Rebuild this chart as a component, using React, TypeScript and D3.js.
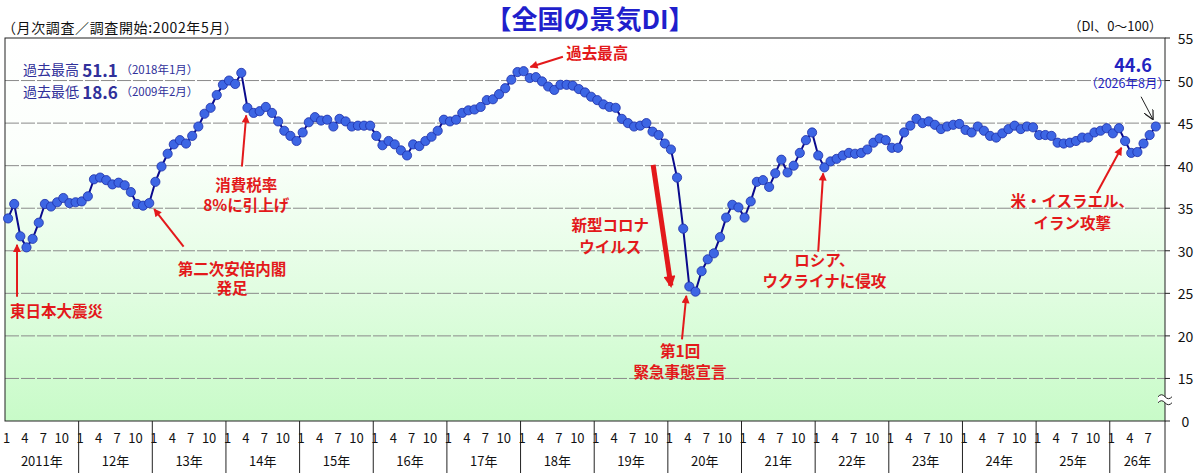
import React, { useEffect, useRef } from 'react';
import * as d3 from 'd3';

// 景気DI (monthly), Jan 2011 - Aug 2026
const di2011 = [33.8, 35.5, 31.7, 30.4, 31.4, 33.3, 35.5, 35.2, 35.7, 36.2, 35.6, 35.7];
const di2012 = [35.8, 36.4, 38.4, 38.6, 38.3, 37.8, 38.0, 37.7, 36.9, 35.5, 35.3, 35.6];
const di2013 = [38.1, 39.9, 41.4, 42.5, 43.0, 42.6, 43.5, 44.6, 46.1, 46.8, 48.3, 49.5];
const di2014 = [50.0, 49.6, 50.9, 46.8, 46.2, 46.4, 46.9, 46.2, 45.2, 44.1, 43.5, 42.9];
const di2015 = [43.9, 45.1, 45.7, 45.3, 45.4, 44.6, 45.5, 45.2, 44.6, 44.7, 44.7, 44.7];
const di2016 = [43.5, 42.4, 42.9, 42.5, 41.8, 41.2, 42.5, 42.3, 42.9, 43.4, 44.1, 45.4];
const di2017 = [45.2, 45.4, 46.2, 46.5, 46.6, 46.9, 47.7, 47.8, 48.4, 49.1, 50.1, 51.0];
const di2018 = [51.1, 50.3, 50.4, 49.9, 49.3, 48.9, 49.5, 49.5, 49.4, 49.0, 48.6, 48.1];
const di2019 = [47.7, 47.2, 46.9, 46.8, 45.5, 45.0, 44.6, 44.7, 45.0, 44.0, 43.6, 42.6];
const di2020 = [41.9, 38.6, 32.6, 25.8, 25.2, 27.6, 29.0, 29.7, 31.6, 33.9, 35.4, 35.1];
const di2021 = [33.9, 35.8, 38.1, 38.3, 37.5, 39.1, 40.7, 39.2, 40.0, 41.5, 43.0, 43.9];
const di2022 = [41.2, 39.8, 40.5, 40.8, 41.2, 41.5, 41.4, 41.5, 41.9, 42.7, 43.2, 43.0];
const di2023 = [42.1, 42.1, 43.9, 44.7, 45.5, 45.0, 45.2, 44.8, 44.3, 44.6, 44.8, 44.9];
const di2024 = [44.2, 43.9, 44.6, 44.1, 43.5, 43.3, 43.8, 44.3, 44.7, 44.3, 44.6, 44.5];
const di2025 = [43.6, 43.6, 43.5, 42.7, 42.6, 42.7, 42.9, 43.3, 43.3, 43.9, 44.1, 44.4];
const di2026 = [43.8, 44.4, 42.9, 41.5, 41.6, 42.6, 43.6, 44.6];
const diByYear = [di2011, di2012, di2013, di2014, di2015, di2016, di2017, di2018,
  di2019, di2020, di2021, di2022, di2023, di2024, di2025, di2026];

const yearLabels = ['2011年', '12年', '13年', '14年', '15年', '16年', '17年', '18年',
  '19年', '20年', '21年', '22年', '23年', '24年', '25年', '26年'];
const monthTickLabels = [1, 4, 7, 10];
const lastYearAxisMonths = 9; // axis runs to Sep 2026

const yTicks = [15, 20, 25, 30, 35, 40, 45, 50, 55];
const yBreakValue = 10; // drawn as "0" below the break
const yBreakLabel = '0';

// annotations, in (month index, DI value)
const redNotes = [
  { lines: ['東日本大震災'], m: 0.3, v: [23.0], anchor: 'start', from: [1.46, 24.6], to: [1.46, 30.7] },
  { lines: ['第二次安倍内閣', '発足'], m: 36.5, v: [28.0, 25.8], anchor: 'middle', from: [28.6, 30.5], to: [23.8, 34.9] },
  { lines: ['消費税率', '8%に引上げ'], m: 38.8, v: [37.8, 35.5], anchor: 'middle', from: [38.1, 39.9], to: [38.8, 45.9] },
  { lines: ['過去最高'], m: 96.0, v: [53.4], anchor: 'middle', from: [90.4, 52.8], to: [85.1, 51.6] },
  { lines: ['新型コロナ', 'ウイルス'], m: 98.1, v: [33.1, 30.6], anchor: 'middle', from: null, to: null },
  { lines: ['第1回', '緊急事態宣言'], m: 109.5, v: [18.3, 15.9], anchor: 'middle', from: [109.8, 19.6], to: [110.5, 24.7] },
  { lines: ['ロシア、', 'ウクライナに侵攻'], m: 133.0, v: [29.0, 26.6], anchor: 'middle', from: [132.0, 29.9], to: [132.8, 39.1] },
  { lines: ['米・イスラエル、', 'イラン攻撃'], m: 173.4, v: [36.0, 33.4], anchor: 'middle', from: [177.4, 36.8], to: [181.4, 42.1] },
];
const covidArrow = { from: [105.1, 40.1], to: [108.0, 25.9] };

const W = 1200;
const H = 476;
const plot = { left: 5, right: 1165, top: 38, bottom: 421 };
const JP = '"Noto Sans CJK JP", "Noto Sans", sans-serif';
const RED = '#e3191b';

const App: React.FC = () => {
  const svgRef = useRef<SVGSVGElement>(null);

  useEffect(() => {
    if (!svgRef.current) return;
    const svg = d3.select(svgRef.current);
    svg.selectAll('*').remove();

    const values = diByYear.flat();
    const nMonths = (diByYear.length - 1) * 12 + lastYearAxisMonths;

    const x = d3.scaleLinear().domain([-0.5, nMonths - 0.5]).range([plot.left, plot.right]);
    const y = d3.scaleLinear().domain([yBreakValue, 55]).range([plot.bottom, plot.top]);

    const defs = svg.append('defs');
    const grad = defs.append('linearGradient')
      .attr('id', 'bg').attr('x1', 0).attr('y1', 0).attr('x2', 0).attr('y2', 1);
    grad.append('stop').attr('offset', '0%').attr('stop-color', '#ffffff');
    grad.append('stop').attr('offset', '30%').attr('stop-color', '#fbfffb');
    grad.append('stop').attr('offset', '100%').attr('stop-color', '#c8fbc8');

    defs.append('marker')
      .attr('id', 'redHead').attr('viewBox', '0 0 10 10')
      .attr('refX', 9).attr('refY', 5)
      .attr('markerWidth', 9).attr('markerHeight', 8)
      .attr('markerUnits', 'userSpaceOnUse')
      .attr('orient', 'auto')
      .append('path').attr('d', 'M0,0 L10,5 L0,10 Z').attr('fill', RED);
    defs.append('marker')
      .attr('id', 'bigHead').attr('viewBox', '0 0 10 10')
      .attr('refX', 8).attr('refY', 5)
      .attr('markerWidth', 14).attr('markerHeight', 12)
      .attr('markerUnits', 'userSpaceOnUse')
      .attr('orient', 'auto')
      .append('path').attr('d', 'M0,0 L10,5 L0,10 Z').attr('fill', RED);
    defs.append('marker')
      .attr('id', 'blackHead').attr('viewBox', '0 0 10 10')
      .attr('refX', 9).attr('refY', 5)
      .attr('markerWidth', 10).attr('markerHeight', 10)
      .attr('markerUnits', 'userSpaceOnUse')
      .attr('orient', 'auto')
      .append('path').attr('d', 'M0,0 L10,5 L0,10').attr('fill', 'none')
      .attr('stroke', '#222').attr('stroke-width', 1.2);

    // plot background
    svg.append('rect')
      .attr('x', plot.left).attr('y', plot.top)
      .attr('width', plot.right - plot.left).attr('height', plot.bottom - plot.top)
      .attr('fill', 'url(#bg)');

    // gridlines
    svg.append('g').selectAll('line')
      .data(yTicks.filter(v => v < 55))
      .enter().append('line')
      .attr('x1', plot.left).attr('x2', plot.right)
      .attr('y1', d => y(d)).attr('y2', d => y(d))
      .attr('stroke', '#8a8a8a').attr('stroke-width', 1)
      .attr('stroke-dasharray', '14,2');

    // header texts
    svg.append('text')
      .attr('x', 2).attr('y', 27).attr('dominant-baseline', 'central')
      .attr('font-family', JP).attr('font-size', 14).attr('fill', '#111')
      .attr('textLength', 236).attr('lengthAdjust', 'spacing')
      .text('（月次調査／調査開始:2002年5月）');
    svg.append('text')
      .attr('x', 1162).attr('y', 25).attr('dominant-baseline', 'central')
      .attr('text-anchor', 'end')
      .attr('font-family', JP).attr('font-size', 13).attr('fill', '#111')
      .text('（DI、0〜100）');
    svg.append('text')
      .attr('x', 590).attr('y', 17).attr('dominant-baseline', 'central')
      .attr('text-anchor', 'middle')
      .attr('font-family', JP).attr('font-size', 26).attr('font-weight', 'bold')
      .attr('fill', '#1f1fcc')
      .text('【全国の景気DI】');

    // right axis
    const yAxisVals = [yBreakValue, ...yTicks];
    const yAxis = svg.append('g');
    yAxis.selectAll('line')
      .data(yAxisVals).enter().append('line')
      .attr('x1', plot.right).attr('x2', plot.right + 5)
      .attr('y1', d => y(d)).attr('y2', d => y(d))
      .attr('stroke', '#222');
    yAxis.selectAll('text')
      .data(yAxisVals).enter().append('text')
      .attr('x', 1185.5).attr('y', d => y(d))
      .attr('text-anchor', 'middle').attr('dominant-baseline', 'central')
      .attr('font-family', JP).attr('font-size', 14).attr('fill', '#111')
      .text(d => (d === yBreakValue ? yBreakLabel : String(d)));

    // bottom axis: year separators, month and year labels
    const xAxis = svg.append('g');
    const yearStarts = diByYear.map((_, i) => i * 12);
    xAxis.selectAll('line.sep')
      .data([...yearStarts.slice(1), nMonths]).enter().append('line')
      .attr('class', 'sep')
      .attr('x1', d => x(d - 0.5)).attr('x2', d => x(d - 0.5))
      .attr('y1', plot.bottom).attr('y2', 473)
      .attr('stroke', '#222');
    const monthTicks = yearStarts.flatMap(s => monthTickLabels
      .map(m => ({ idx: s + m - 1, label: String(m) })))
      .filter(d => d.idx < nMonths);
    xAxis.selectAll('text.month')
      .data(monthTicks).enter().append('text')
      .attr('class', 'month')
      .attr('x', d => x(d.idx) - 1.5).attr('y', 437)
      .attr('text-anchor', 'middle').attr('dominant-baseline', 'central')
      .attr('font-family', JP).attr('font-size', 13).attr('fill', '#111')
      .text(d => d.label);
    xAxis.selectAll('text.year')
      .data(yearLabels).enter().append('text')
      .attr('class', 'year')
      .attr('x', (_, i) => (x(i * 12 - 0.5) + Math.min(x(i * 12 + 11.5), plot.right)) / 2)
      .attr('y', 460)
      .attr('text-anchor', 'middle').attr('dominant-baseline', 'central')
      .attr('font-family', JP).attr('font-size', 13).attr('fill', '#111')
      .text(d => d);

    // plot frame
    svg.append('rect')
      .attr('x', plot.left).attr('y', plot.top)
      .attr('width', plot.right - plot.left).attr('height', plot.bottom - plot.top)
      .attr('fill', 'none').attr('stroke', '#222').attr('stroke-width', 1);

    // axis break mark
    const by = y(12.5);
    const brk = svg.append('g').attr('transform', `translate(${plot.right},${by})`);
    brk.append('path')
      .attr('d', 'M-7,-3 q3.5,-4 7,0 t7,0 L7,3 q-3.5,4 -7,0 t-7,0 Z')
      .attr('fill', '#fff');
    brk.selectAll('path.w')
      .data([-3, 3]).enter().append('path')
      .attr('class', 'w')
      .attr('d', d => `M-7,${d} q3.5,-4 7,0 t7,0`)
      .attr('fill', 'none').attr('stroke', '#222').attr('stroke-width', 1);

    // inset: record high / low (one text block, two rows)
    const insetRows = [
      { label: '過去最高 ', val: '51.1', when: ' （2018年1月）', v: 51.3 },
      { label: '過去最低 ', val: '18.6', when: ' （2009年2月）', v: 48.75 },
    ];
    const inset = svg.append('text')
      .attr('font-family', JP).attr('fill', '#30309a');
    insetRows.forEach(r => {
      inset.append('tspan')
        .attr('x', x(2.45)).attr('y', y(r.v)).attr('dominant-baseline', 'central')
        .attr('font-size', 14).text(r.label);
      inset.append('tspan').attr('dominant-baseline', 'central')
        .attr('font-size', 17).attr('font-weight', 'bold').text(r.val);
      inset.append('tspan').attr('dominant-baseline', 'central')
        .attr('font-size', 11.5).text(r.when);
    });

    // red annotations
    const notes = svg.append('g');
    redNotes.forEach(n => {
      const t = notes.append('text')
        .attr('text-anchor', n.anchor)
        .attr('font-family', JP).attr('font-size', 15.5).attr('font-weight', 'bold')
        .attr('fill', RED);
      n.lines.forEach((line, li) => {
        t.append('tspan')
          .attr('x', x(n.m)).attr('y', y(n.v[li]))
          .attr('dominant-baseline', 'central')
          .text(line);
      });
      if (n.from && n.to) {
        notes.append('line')
          .attr('x1', x(n.from[0])).attr('y1', y(n.from[1]))
          .attr('x2', x(n.to[0])).attr('y2', y(n.to[1]))
          .attr('stroke', RED).attr('stroke-width', 2)
          .attr('marker-end', 'url(#redHead)');
      }
    });
    notes.append('line')
      .attr('x1', x(covidArrow.from[0])).attr('y1', y(covidArrow.from[1]))
      .attr('x2', x(covidArrow.to[0])).attr('y2', y(covidArrow.to[1]))
      .attr('stroke', RED).attr('stroke-width', 5)
      .attr('marker-end', 'url(#bigHead)');

    // latest value label
    const lastIdx = values.length - 1;
    const latest = svg.append('text').attr('font-family', JP).attr('fill', '#2323c0')
      .attr('text-anchor', 'middle');
    latest.append('tspan')
      .attr('x', x(183.3)).attr('y', y(52.0)).attr('dominant-baseline', 'central')
      .attr('font-size', 18).attr('font-weight', 'bold')
      .text(values[lastIdx].toFixed(1));
    latest.append('tspan')
      .attr('x', x(182.4)).attr('y', y(49.8)).attr('dominant-baseline', 'central')
      .attr('font-size', 12.5)
      .text('（2026年8月）');
    svg.append('line')
      .attr('x1', x(184.6)).attr('y1', y(48.1))
      .attr('x2', x(186.5)).attr('y2', y(45.5))
      .attr('stroke', '#222').attr('stroke-width', 1)
      .attr('marker-end', 'url(#blackHead)');

    // series
    const line = d3.line<number>()
      .x((_, i) => x(i))
      .y(d => y(d));
    svg.append('path')
      .datum(values)
      .attr('d', line)
      .attr('fill', 'none')
      .attr('stroke', '#0a0a8c')
      .attr('stroke-width', 2);
    svg.append('g').selectAll('circle')
      .data(values).enter().append('circle')
      .attr('cx', (_, i) => x(i))
      .attr('cy', d => y(d))
      .attr('r', 4.6)
      .attr('fill', '#3d66e4')
      .attr('stroke', '#1d2fa8')
      .attr('stroke-width', 0.8);
  }, []);

  return (
    <svg
      ref={svgRef}
      width={W}
      height={H}
      style={{ position: 'absolute', left: 0, top: 0, background: '#fff' }}
    />
  );
};

export default App;
